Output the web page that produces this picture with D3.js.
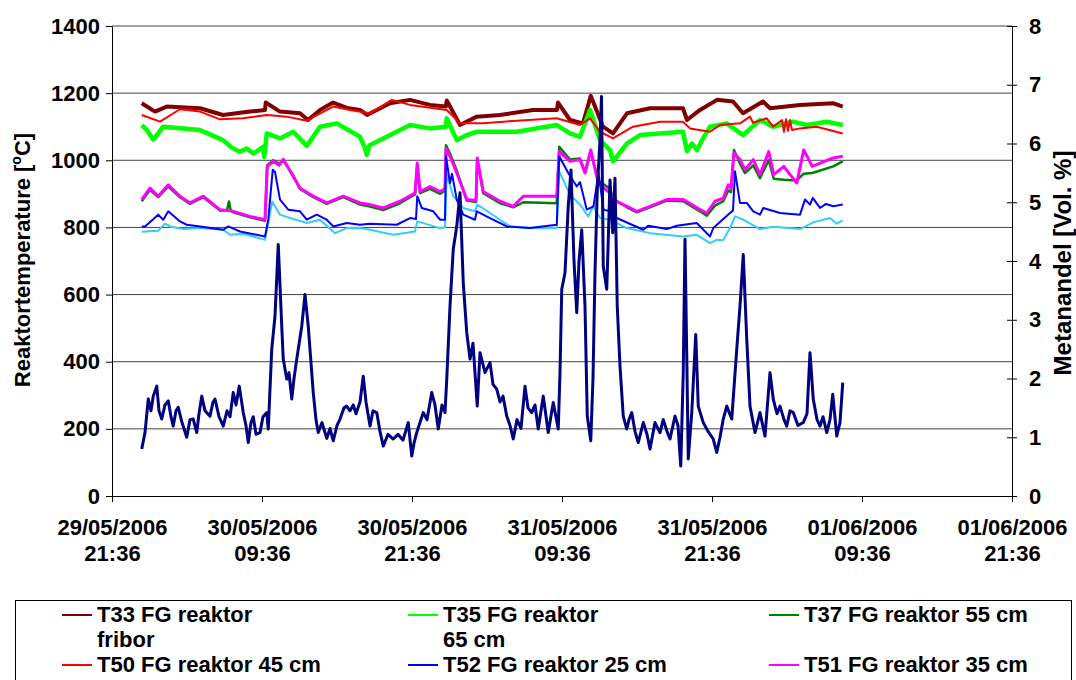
<!DOCTYPE html>
<html>
<head>
<meta charset="utf-8">
<script src="https://cdn.jsdelivr.net/npm/d3@7"></script>
<style>
  body { margin: 0; background: #fff; }
  svg { font-family: "Liberation Sans", Arial, sans-serif; font-weight: bold; }
</style>
</head>
<body>
<div id="chart"></div>
<script>
// Reactor temperatures and methane share, 29/05/2006 - 01/06/2006
// time values are hours after 29/05/2006 21:36

const startTime = new Date(2006, 4, 29, 21, 36);
const tickHours = [0, 12, 24, 36, 48, 60, 72];
const tempTicks = [0, 200, 400, 600, 800, 1000, 1200, 1400];
const methaneTicks = [0, 1, 2, 3, 4, 5, 6, 7, 8];

const t33 = [[2.38,1170],[3.44,1145],[4.38,1160],[7.04,1155],[8.88,1135],[11.04,1145],[12.24,1150],[12.3,1172],[13.44,1145],[15.04,1140],[15.68,1120],[16.64,1150],[17.68,1172],[18.8,1156],[19.84,1150],[20.4,1135],[22.24,1170],[23.84,1180],[25.44,1165],[26.7,1160],[26.78,1178],[27.84,1105],[29.18,1130],[31.04,1135],[33.68,1150],[35.6,1150],[35.68,1172],[36.64,1120],[37.68,1110],[38.3,1192],[39.28,1100],[40.08,1080],[41.2,1140],[43.04,1155],[45.68,1155],[46.0,1120],[47.04,1150],[48.4,1180],[49.68,1175],[50.48,1140],[52.08,1175],[52.64,1155],[55.04,1165],[57.68,1170],[58.46,1160]];

const t35 = [[2.38,1105],[2.8,1090],[3.28,1062],[3.6,1075],[4.08,1100],[7.04,1090],[8.88,1060],[9.5,1040],[10.2,1025],[10.78,1035],[11.3,1020],[11.8,1032],[12.08,1040],[12.18,1010],[12.38,1080],[13.44,1065],[14.5,1085],[15.58,1043],[16.64,1100],[17.98,1110],[19.84,1070],[20.2,1040],[20.38,1016],[20.6,1045],[21.7,1065],[23.84,1105],[25.44,1095],[26.7,1100],[26.78,1125],[27.58,1060],[28.38,1075],[29.18,1085],[32.38,1085],[35.58,1105],[36.64,1080],[37.44,1070],[38.24,1150],[39.04,1060],[39.84,1030],[40.08,997],[41.2,1050],[42.24,1075],[45.68,1085],[46.0,1027],[46.4,1050],[46.8,1030],[47.2,1060],[47.84,1100],[49.18,1110],[50.48,1075],[51.84,1120],[52.88,1100],[54.48,1115],[55.58,1105],[57.18,1115],[58.46,1105]];

const t37 = [[2.38,878],[3.04,912],[3.7,890],[4.5,922],[5.44,890],[6.24,870],[7.3,890],[8.64,850],[9.2,852],[9.36,877],[9.5,850],[9.7,845],[11.04,830],[12.24,820],[12.42,985],[12.9,1000],[13.36,990],[13.7,1000],[14.5,955],[15.04,915],[16.1,890],[17.18,870],[18.5,890],[19.84,868],[20.64,862],[21.7,852],[23.04,872],[24.24,898],[24.42,985],[24.64,902],[25.44,915],[26.24,900],[26.64,910],[26.72,1045],[27.04,1020],[27.58,970],[28.38,880],[29.12,876],[29.22,1000],[29.7,902],[31.04,872],[32.1,860],[32.9,875],[35.58,872],[35.78,1040],[36.64,1002],[37.44,1005],[37.84,965],[38.3,1025],[38.9,940],[39.84,915],[40.08,885],[41.2,860],[41.98,845],[43.04,860],[44.38,880],[45.7,878],[47.04,848],[47.58,835],[48.24,865],[48.9,878],[49.3,910],[49.52,905],[49.76,1031],[50.24,990],[50.64,962],[51.3,985],[51.84,947],[52.54,1000],[52.94,945],[53.74,942],[54.78,940],[55.34,960],[56.02,962],[57.7,982],[58.46,997]];

const t50 = [[2.38,1135],[3.84,1115],[5.44,1152],[7.04,1145],[8.64,1122],[10.48,1125],[12.38,1135],[13.98,1130],[15.58,1118],[17.68,1160],[19.04,1150],[20.64,1140],[22.38,1180],[23.84,1165],[26.78,1150],[27.84,1110],[29.68,1110],[32.38,1118],[35.58,1125],[37.44,1105],[38.24,1125],[39.04,1085],[39.84,1070],[40.08,1065],[41.68,1100],[43.84,1115],[45.68,1115],[46.24,1095],[47.84,1085],[48.64,1105],[50.24,1110],[51.04,1130],[51.28,1112],[52.38,1125],[52.88,1100],[53.6,1120],[53.76,1085],[53.92,1122],[54.08,1088],[54.24,1120],[54.4,1090],[55.04,1095],[56.38,1100],[58.46,1080]];

const t52 = [[2.38,803],[2.64,803],[3.7,838],[4.1,823],[4.5,848],[5.44,818],[5.98,808],[7.04,803],[8.9,793],[9.3,803],[10.24,788],[12.24,773],[12.5,823],[12.86,972],[13.04,965],[13.44,883],[14.1,853],[15.04,848],[15.58,823],[16.38,838],[17.18,823],[17.7,803],[18.78,813],[19.84,808],[20.64,811],[22.78,808],[23.84,828],[24.32,825],[24.42,893],[24.78,858],[25.7,848],[26.24,823],[26.64,823],[26.72,1012],[27.04,932],[27.2,960],[27.58,883],[28.1,838],[29.04,823],[29.18,848],[30.24,828],[31.58,803],[33.44,798],[35.58,808],[35.78,1012],[36.5,962],[37.18,922],[37.44,935],[37.98,853],[38.52,863],[38.92,962],[39.32,853],[39.84,848],[40.38,828],[42.5,793],[42.9,805],[44.38,795],[45.18,805],[46.78,813],[47.84,773],[48.1,798],[49.44,843],[49.68,850],[49.84,967],[50.24,873],[50.78,873],[51.3,848],[51.84,838],[52.1,858],[53.44,843],[55.04,838],[55.44,883],[55.84,868],[56.06,888],[56.64,858],[57.12,870],[57.7,863],[58.46,868]];

const t51 = [[2.38,883],[3.04,917],[3.7,893],[4.5,927],[5.44,893],[6.24,873],[7.3,893],[8.64,853],[9.7,848],[11.04,833],[12.24,823],[12.42,982],[12.9,997],[13.36,985],[13.7,1003],[14.5,952],[15.04,917],[16.1,893],[17.18,873],[18.5,893],[19.84,873],[20.64,868],[21.7,858],[23.04,878],[24.24,902],[24.42,992],[24.64,907],[25.44,922],[26.24,907],[26.64,915],[26.72,1035],[27.04,1012],[27.58,962],[28.38,883],[29.12,880],[29.22,1007],[29.7,907],[31.04,878],[32.1,863],[32.9,893],[35.58,893],[35.78,1026],[36.64,997],[37.44,1002],[37.84,962],[38.3,1031],[38.9,932],[39.84,902],[40.08,883],[41.2,863],[41.98,848],[43.04,863],[44.38,883],[45.7,883],[47.04,853],[47.58,843],[48.24,878],[48.9,887],[49.3,927],[49.52,915],[49.76,1022],[50.24,1002],[50.64,972],[51.3,1002],[51.84,957],[52.54,1026],[52.94,957],[53.74,982],[54.78,932],[55.34,1031],[56.02,982],[57.7,1007],[58.46,1012]];

const t53 = [[2.38,787],[3.68,790],[4.24,811],[4.72,802],[5.7,795],[7.04,798],[8.9,793],[9.44,778],[10.48,781],[12.24,763],[12.5,813],[12.82,877],[13.44,838],[14.5,825],[15.58,813],[16.64,823],[17.84,783],[18.78,798],[19.84,798],[20.64,793],[22.5,778],[24.24,788],[24.42,818],[26.24,798],[26.64,800],[26.78,957],[27.3,893],[28.1,858],[29.04,848],[29.22,868],[30.24,843],[31.84,803],[33.44,798],[35.58,798],[35.78,967],[36.64,897],[37.44,868],[38.1,833],[38.5,863],[39.04,828],[39.84,823],[41.18,798],[43.04,783],[45.7,773],[46.78,778],[47.84,753],[48.38,763],[48.88,762],[49.44,798],[49.84,833],[50.5,823],[51.84,795],[52.9,802],[55.04,795],[56.1,815],[57.44,828],[57.98,811],[58.46,821]];

const methane = [[2.38,0.80],[2.64,1.08],[2.90,1.65],[3.12,1.45],[3.30,1.70],[3.58,1.87],[3.76,1.45],[3.98,1.31],[4.24,1.55],[4.50,1.62],[4.72,1.35],[4.90,1.19],[5.12,1.45],[5.30,1.51],[5.60,1.25],[5.98,1.00],[6.24,1.30],[6.50,1.31],[6.78,1.08],[6.96,1.40],[7.18,1.70],[7.44,1.45],[7.84,1.36],[8.08,1.60],[8.24,1.65],[8.56,1.35],[8.90,1.19],[9.20,1.45],[9.44,1.35],[9.70,1.76],[9.92,1.55],[10.18,1.87],[10.50,1.42],[10.72,1.20],[10.90,0.91],[11.12,1.25],[11.30,1.35],[11.52,1.05],[11.84,1.08],[12.08,1.35],[12.38,1.42],[12.50,1.14],[12.78,2.50],[13.04,3.06],[13.30,4.28],[13.58,2.89],[13.70,2.33],[13.98,1.99],[14.16,2.10],[14.38,1.65],[14.56,2.00],[14.78,2.33],[15.18,2.89],[15.44,3.43],[15.70,2.89],[16.10,1.76],[16.32,1.30],[16.50,1.08],[16.80,1.25],[17.18,0.98],[17.44,1.15],[17.70,0.94],[18.00,1.20],[18.24,1.31],[18.56,1.50],[18.78,1.53],[19.04,1.45],[19.30,1.55],[19.52,1.40],[19.84,1.60],[20.10,2.04],[20.32,1.60],[20.64,1.19],[20.88,1.45],[21.18,1.42],[21.44,1.10],[21.70,0.85],[22.08,1.05],[22.50,0.97],[22.88,1.05],[23.28,0.95],[23.70,1.25],[23.98,0.68],[24.16,0.90],[24.38,1.08],[24.64,1.25],[24.90,1.42],[25.20,1.30],[25.58,1.76],[25.84,1.55],[26.10,1.14],[26.40,1.55],[26.64,1.42],[26.78,1.99],[27.04,3.23],[27.30,4.20],[27.58,4.59],[27.84,5.16],[28.10,3.63],[28.38,2.78],[28.64,2.33],[28.88,2.60],[29.22,1.53],[29.44,2.44],[29.84,2.10],[30.24,2.27],[30.48,1.90],[30.78,1.82],[31.04,1.60],[31.28,1.70],[31.58,1.36],[31.84,1.20],[32.10,0.97],[32.40,1.30],[32.72,1.15],[33.04,1.87],[33.28,1.50],[33.58,1.42],[33.84,1.55],[34.10,1.14],[34.50,1.70],[34.90,1.08],[35.30,1.59],[35.70,1.14],[35.84,2.10],[35.98,3.52],[36.24,3.80],[36.50,4.93],[36.72,5.55],[36.96,4.00],[37.18,3.12],[37.36,4.00],[37.58,4.53],[37.84,3.23],[38.02,1.36],[38.30,0.94],[38.48,2.00],[38.64,3.80],[38.82,5.21],[39.04,6.06],[39.16,6.80],[39.30,3.91],[39.58,3.52],[39.68,4.20],[39.84,5.38],[40.06,4.48],[40.24,5.41],[40.42,3.23],[40.64,2.21],[40.90,1.36],[41.18,1.14],[41.36,1.30],[41.58,1.42],[41.84,1.10],[42.10,0.91],[42.50,1.25],[42.80,1.05],[43.04,0.80],[43.44,1.25],[43.84,1.08],[44.10,1.30],[44.40,1.10],[44.64,0.97],[45.04,1.36],[45.28,1.20],[45.50,0.51],[45.70,2.10],[45.84,4.37],[45.98,2.40],[46.10,0.63],[46.38,1.42],[46.70,2.75],[46.90,1.53],[47.30,1.25],[47.68,1.10],[48.10,0.97],[48.38,0.74],[48.64,1.00],[48.90,1.31],[49.18,1.53],[49.58,1.31],[49.98,2.50],[50.24,3.23],[50.50,4.11],[50.78,2.67],[51.04,1.53],[51.44,1.08],[51.84,1.42],[52.24,1.02],[52.64,2.10],[52.90,1.65],[53.20,1.40],[53.44,1.53],[53.76,1.30],[53.98,1.19],[54.24,1.45],[54.50,1.42],[54.88,1.20],[55.30,1.25],[55.60,1.40],[55.84,2.44],[56.10,1.65],[56.40,1.30],[56.64,1.19],[56.88,1.35],[57.18,1.08],[57.44,1.30],[57.66,1.73],[57.98,1.02],[58.24,1.25],[58.46,1.93]];

const legendLabels = [["T33 FG reaktor", "fribor"], ["T35 FG reaktor", "65 cm"], ["T37 FG reaktor 55 cm"], ["T50 FG reaktor 45 cm"], ["T52 FG reaktor 25 cm"], ["T51 FG reaktor 35 cm"]];
const legendColors = ["#800000", "#00ff00", "#008000", "#ff0000", "#0000ff", "#ff00ff"];

// drawing order: later series on top
const series = [
    { data: t33, color: "#800000", width: 4, axis: "temp" },
    { data: t35, color: "#00ff00", width: 4.5, axis: "temp" },
    { data: t50, color: "#ff0000", width: 2, axis: "temp" },
    { data: t37, color: "#008000", width: 2.5, axis: "temp" },
    { data: t51, color: "#ff00ff", width: 3, axis: "temp" },
    { data: t53, color: "#33ccff", width: 2, axis: "temp" },
    { data: t52, color: "#0000ff", width: 2, axis: "temp" },
    { data: methane, color: "#000080", width: 3, axis: "methane" }
];

const width = 1076, height = 680;
const plot = { left: 112, right: 1012, top: 26, bottom: 496 };
const toDate = h => new Date(startTime.getTime() + h * 3600000);

const svg = d3.select("#chart").append("svg")
    .attr("width", width)
    .attr("height", height);

const x = d3.scaleTime()
    .domain([toDate(0), toDate(72)])
    .range([plot.left, plot.right]);
const yTemp = d3.scaleLinear().domain([0, 1400]).range([plot.bottom, plot.top]);
const yMeth = d3.scaleLinear().domain([0, 8]).range([plot.bottom, plot.top]);

// gridlines
svg.append("g")
    .selectAll("line")
    .data(tempTicks.slice(1))
    .join("line")
    .attr("x1", plot.left).attr("x2", plot.right)
    .attr("y1", d => yTemp(d)).attr("y2", d => yTemp(d))
    .attr("stroke", "#444").attr("stroke-width", 1);

// series lines
const line = d3.line().x(d => x(toDate(d[0])));
series.forEach(s => {
    const yScale = s.axis === "temp" ? yTemp : yMeth;
    svg.append("path")
        .datum(s.data)
        .attr("fill", "none")
        .attr("stroke", s.color)
        .attr("stroke-width", s.width)
        .attr("stroke-linejoin", "round")
        .attr("d", line.y(d => yScale(d[1])));
});

// axes
const styleAxis = g => {
    g.select(".domain").attr("stroke", "#000");
    g.selectAll(".tick line").attr("stroke", "#000");
    g.selectAll("text").attr("font-size", 22).attr("font-weight", "bold").attr("fill", "#000")
        .attr("font-family", "'Liberation Sans', Arial, sans-serif");
};

svg.append("g")
    .attr("transform", `translate(${plot.left},0)`)
    .call(d3.axisLeft(yTemp).tickValues(tempTicks).tickFormat(d3.format("d"))
        .tickSize(6).tickPadding(6).tickSizeOuter(0))
    .call(styleAxis);

const right = svg.append("g")
    .attr("transform", `translate(${plot.right},0)`)
    .call(d3.axisRight(yMeth).tickValues(methaneTicks).tickFormat(d3.format("d"))
        .tickSize(5).tickPadding(12).tickSizeOuter(0))
    .call(styleAxis);
right.selectAll(".tick line").attr("x1", -5); // cross tick marks

const xAxis = svg.append("g")
    .attr("transform", `translate(0,${plot.bottom})`)
    .call(d3.axisBottom(x).tickValues(tickHours.map(toDate)).tickSize(6).tickSizeOuter(0).tickFormat(""))
    .call(styleAxis);

const fmtDate = d3.timeFormat("%d/%m/%Y");
const fmtTime = d3.timeFormat("%H:%M");
xAxis.selectAll(".tick").append("text")
    .attr("fill", "#000")
    .attr("font-size", 22)
    .attr("text-anchor", "middle")
    .each(function(d) {
        const t = d3.select(this);
        t.append("tspan").attr("x", 0).attr("y", 39).text(fmtDate(d));
        t.append("tspan").attr("x", 0).attr("y", 65).text(fmtTime(d));
    });

// axis titles
const leftTitle = svg.append("text")
    .attr("transform", "translate(30,260) rotate(-90)")
    .attr("text-anchor", "middle")
    .attr("font-size", 22);
leftTitle.append("tspan").text("Reaktortemperature [");
leftTitle.append("tspan").attr("font-size", 14).attr("dy", -9).text("o");
leftTitle.append("tspan").attr("dy", 9).text("C]");

svg.append("text")
    .attr("transform", "translate(1071,263) rotate(-90)")
    .attr("text-anchor", "middle")
    .attr("font-size", 24)
    .text("Metanandel [Vol. %]");

// legend
const legend = svg.append("g");
legend.append("rect")
    .attr("x", 15.5).attr("y", 600.5)
    .attr("width", 1056).attr("height", 100)
    .attr("fill", "#fff").attr("stroke", "#000");

const colX = [62, 408, 769];
const rowY = [615, 665];
const wrapGap = 25;
legendLabels.forEach((lines, i) => {
    const cx = colX[i % 3], cy = rowY[Math.floor(i / 3)];
    legend.append("line")
        .attr("x1", cx).attr("x2", cx + 30)
        .attr("y1", cy).attr("y2", cy)
        .attr("stroke", legendColors[i]).attr("stroke-width", 2);
    const txt = legend.append("text").attr("font-size", 22);
    lines.forEach((l, j) => {
        txt.append("tspan").attr("x", cx + 35).attr("y", cy + 7 + j * wrapGap).text(l);
    });
});
</script>
</body>
</html>
